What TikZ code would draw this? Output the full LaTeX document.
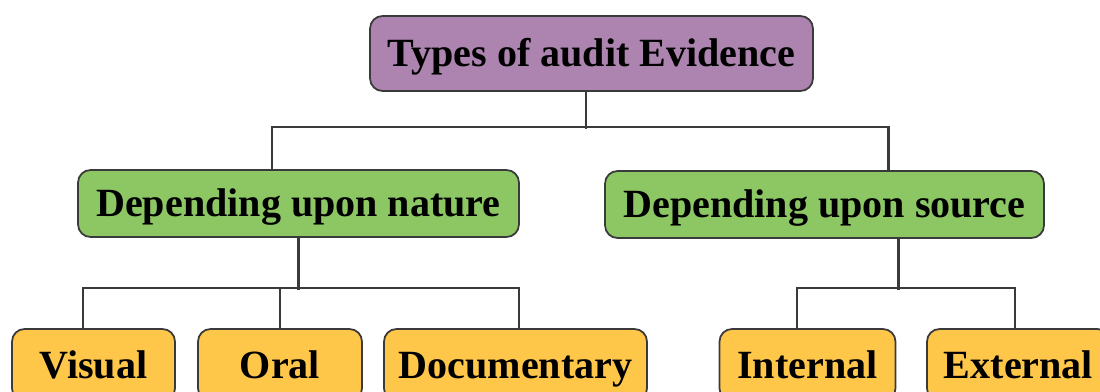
\documentclass[tikz,border=0pt]{standalone}
\usepackage{fontspec}
\setmainfont{Liberation Serif}
\definecolor{rootpurple}{HTML}{AD84AF}
\definecolor{levelgreen}{HTML}{8DC764}
\definecolor{leaforange}{HTML}{FFC74A}
\definecolor{linegray}{HTML}{3A3A3A}

\begin{document}
\begin{tikzpicture}[x=0.02cm, y=-0.02cm,
    box/.style={draw=linegray, line width=1pt, rounded corners=0.25cm, inner sep=0pt,
                text height=15.5pt, text depth=0.5pt,
                font=\fontsize{22.8}{27}\selectfont\bfseries},
    rootbox/.style={box, fill=rootpurple, minimum width=8.86cm, minimum height=1.5cm},
    groupbox/.style={box, fill=levelgreen, minimum height=1.34cm},
    leafbox/.style={box, fill=leaforange, minimum height=1.44cm},
    conn/.style={draw=linegray, line width=1.2pt}]
    \useasboundingbox (0, 0) rectangle (1100, 392);
    \clip (0, 0) rectangle (1100, 392);

    % nodes: root, groups
    \node[rootbox] (root) at (591.5, 53.5) {Types of audit Evidence};
    \node[groupbox, minimum width=8.82cm] (nature) at (298.5, 203.5) {Depending upon nature};
    \node[groupbox, minimum width=8.78cm] (source) at (824.5, 204.5) {Depending upon source};
    % nodes: leaves
    \node[leafbox, minimum width=3.26cm] (vis) at (93.5, 365) {Visual};
    \node[leafbox, minimum width=3.28cm] (oral) at (280, 365) {Oral};
    \node[leafbox, minimum width=5.26cm] (doc) at (515.5, 365) {Documentary};
    \node[leafbox, minimum width=3.52cm] (int) at (807.5, 365) {Internal};
    \node[leafbox, minimum width=3.66cm] (ext) at (1018.5, 365) {External};

    % edges: root to groups
    \draw[conn] ([xshift=-0.11cm]root.south) -- ++(0, 37);
    \draw[conn] ([xshift=-0.53cm]nature.north) -- ++(0, -42) -| ([xshift=1.28cm]source.north);
    % edges: nature to its leaves
    \draw[conn] (nature.south) -- ++(0, 52);
    \draw[conn] ([xshift=-0.21cm]vis.north) -- ++(0, -40) -| ([xshift=0.07cm]doc.north);
    \draw[conn] (oral.north) -- ++(0, -40);
    % edges: source to its leaves
    \draw[conn] ([xshift=1.48cm]source.south) -- ++(0, 51);
    \draw[conn] ([xshift=-0.21cm]int.north) -- ++(0, -40) -| ([xshift=-0.07cm]ext.north);
\end{tikzpicture}
\end{document}
